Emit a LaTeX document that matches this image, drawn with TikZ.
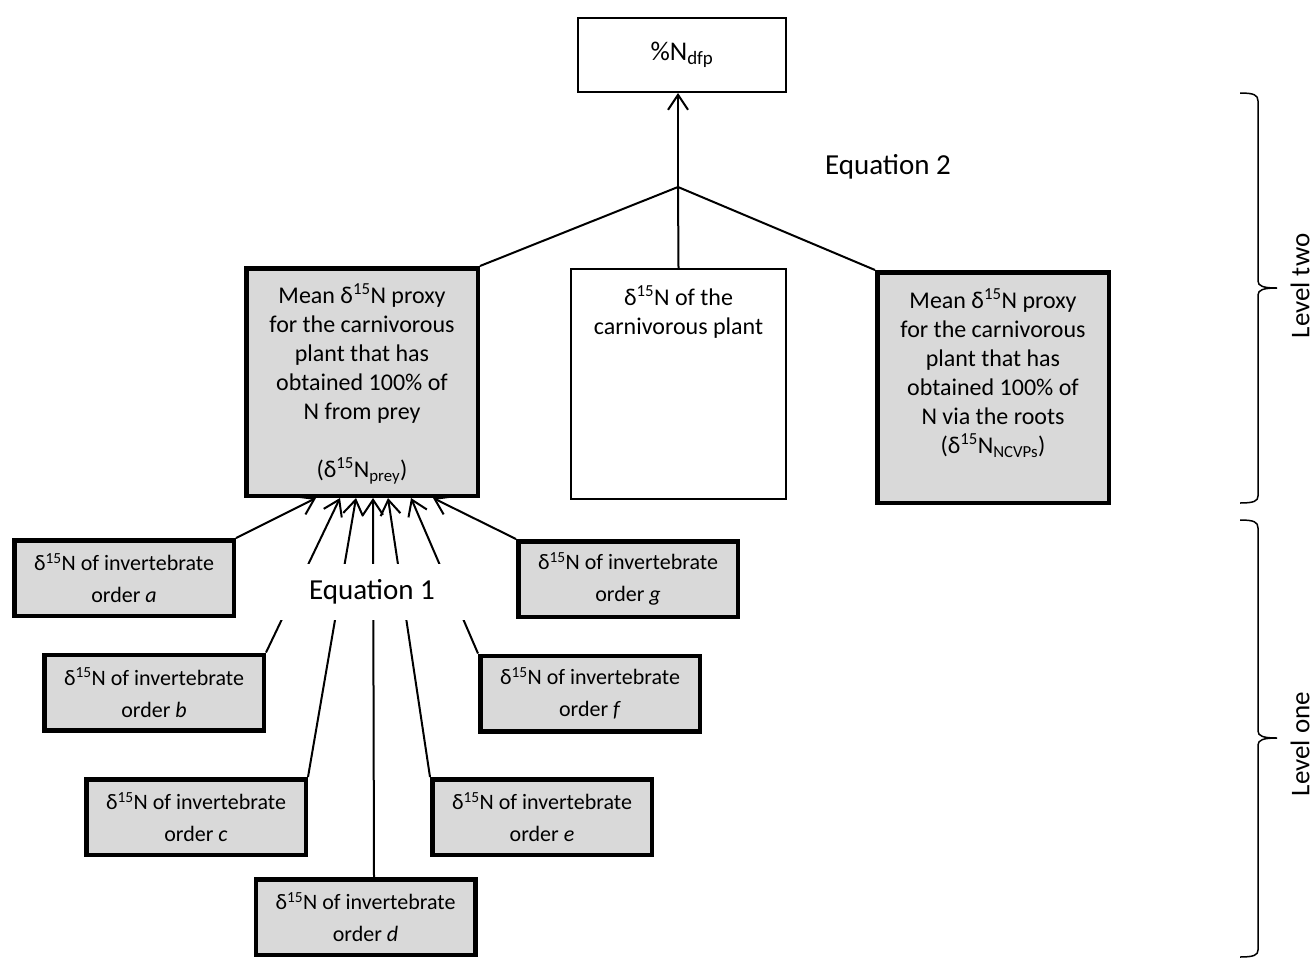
\documentclass[tikz,border=0pt]{standalone}
\usepackage{fontspec}
\setmainfont{Carlito}
\usepackage{tikz}
\usetikzlibrary{arrows.meta}
\definecolor{boxgrey}{RGB}{217,217,217}
\newcommand{\boxlines}[2]{\parbox[c][#1][t]{200pt}{\centering #2}}
\tikzset{
  greybox/.style={draw,line width=4.5pt,fill=boxgrey,inner xsep=7pt,inner ysep=15pt,font=\fontsize{24}{29}\selectfont},
  whitebox/.style={draw,line width=2pt,fill=white,inner xsep=7pt,inner ysep=15pt,font=\fontsize{24}{29}\selectfont},
  orderbox/.style={draw,line width=4.5pt,fill=boxgrey,align=center,minimum width=219.5pt,minimum height=75.5pt,inner sep=2pt,font=\fontsize{22}{32}\selectfont},
  eqlabel/.style={font=\fontsize{29}{34}\selectfont},
  levellabel/.style={rotate=90,inner sep=1pt,font=\fontsize{27}{32}\selectfont},
  link/.style={line width=2pt},
  levelline/.style={line width=1.5pt}
}

\begin{document}
\begin{tikzpicture}[x=1pt,y=-1pt,>={Straight Barb[length=15pt,width=20pt]}]
              \useasboundingbox (0,0) rectangle (1316,959);
              % level two
              \node[whitebox,align=center,inner sep=2pt,minimum width=208pt,minimum height=74pt,font=\fontsize{27}{32}\selectfont](top)at(682,55){\%N\textsubscript{dfp}};
              \coordinate (join) at (678,187);
              \node[eqlabel](eqtwo)at(888,167){Equation 2};
              \node[greybox,minimum width=231.5pt,minimum height=227.5pt](prey)at(362,382){\boxlines{197pt}{Mean δ\textsuperscript{15}N proxy\\for the carnivorous\\plant that has\\obtained 100\% of\\N from prey\\[29pt](δ\textsuperscript{15}N\textsubscript{prey})}};
              \node[whitebox,minimum width=215pt,minimum height=230pt](plant)at(678.5,384){\boxlines{197pt}{δ\textsuperscript{15}N of the\\carnivorous plant}};
              \node[greybox,minimum width=231.5pt,minimum height=230.5pt](ncvp)at(993,387.5){\boxlines{197pt}{Mean δ\textsuperscript{15}N proxy\\for the carnivorous\\plant that has\\obtained 100\% of\\N via the roots\\(δ\textsuperscript{15}N\textsubscript{NCVPs})}};
              \draw[link,->](join)--(join|-top.south);
              \draw[link](join)--(prey.north east);
              \draw[link](join)--(plant.north);
              \draw[link](join)--(ncvp.north west);
              % level one
              \node[orderbox](ordera)at(124,578){δ\textsuperscript{15}N of invertebrate\\order \textit{a}};
              \node[orderbox](orderb)at(154,692.5){δ\textsuperscript{15}N of invertebrate\\order \textit{b}};
              \node[orderbox](orderc)at(196,817){δ\textsuperscript{15}N of invertebrate\\order \textit{c}};
              \node[orderbox](orderd)at(365.5,917){δ\textsuperscript{15}N of invertebrate\\order \textit{d}};
              \node[orderbox](ordere)at(542,817){δ\textsuperscript{15}N of invertebrate\\order \textit{e}};
              \node[orderbox](orderf)at(590,693.5){δ\textsuperscript{15}N of invertebrate\\order \textit{f}};
              \node[orderbox](orderg)at(628,579){δ\textsuperscript{15}N of invertebrate\\order \textit{g}};
              \draw[link,->](ordera.north east)--([xshift=72pt]prey.south west);
              \draw[link,->](orderb.north east)--([xshift=96pt]prey.south west);
              \draw[link,->](orderc.north east)--([xshift=112pt]prey.south west);
              \draw[link,->]([xshift=8.5pt]orderd.north)--([xshift=129pt]prey.south west);
              \draw[link,->](ordere.north west)--([xshift=144pt]prey.south west);
              \draw[link,->](orderf.north west)--([xshift=167pt]prey.south west);
              \draw[link,->](orderg.north west)--([xshift=189pt]prey.south west);
              \node[eqlabel,fill=white,minimum width=188pt,minimum height=56pt](eqone)at(372,592){Equation 1};
              % braces
              \draw[levelline](1240,93)..controls(1254,93)and(1258,95)..(1258,101)--(1258,281)..controls(1258,286)and(1263,288)..(1277,288)..controls(1263,288)and(1258,290)..(1258,295)--(1258,496)..controls(1258,501)and(1254,503)..(1240,503);
              \node[levellabel](leveltwo)at(1300,286){Level two};
              \draw[levelline](1240,520)..controls(1254,520)and(1258,522)..(1258,528)--(1258,731)..controls(1258,736)and(1263,738)..(1277,738)..controls(1263,738)and(1258,740)..(1258,745)--(1258,950)..controls(1258,955)and(1254,957)..(1240,957);
              \node[levellabel](levelone)at(1300,744){Level one};
\end{tikzpicture}
\end{document}
